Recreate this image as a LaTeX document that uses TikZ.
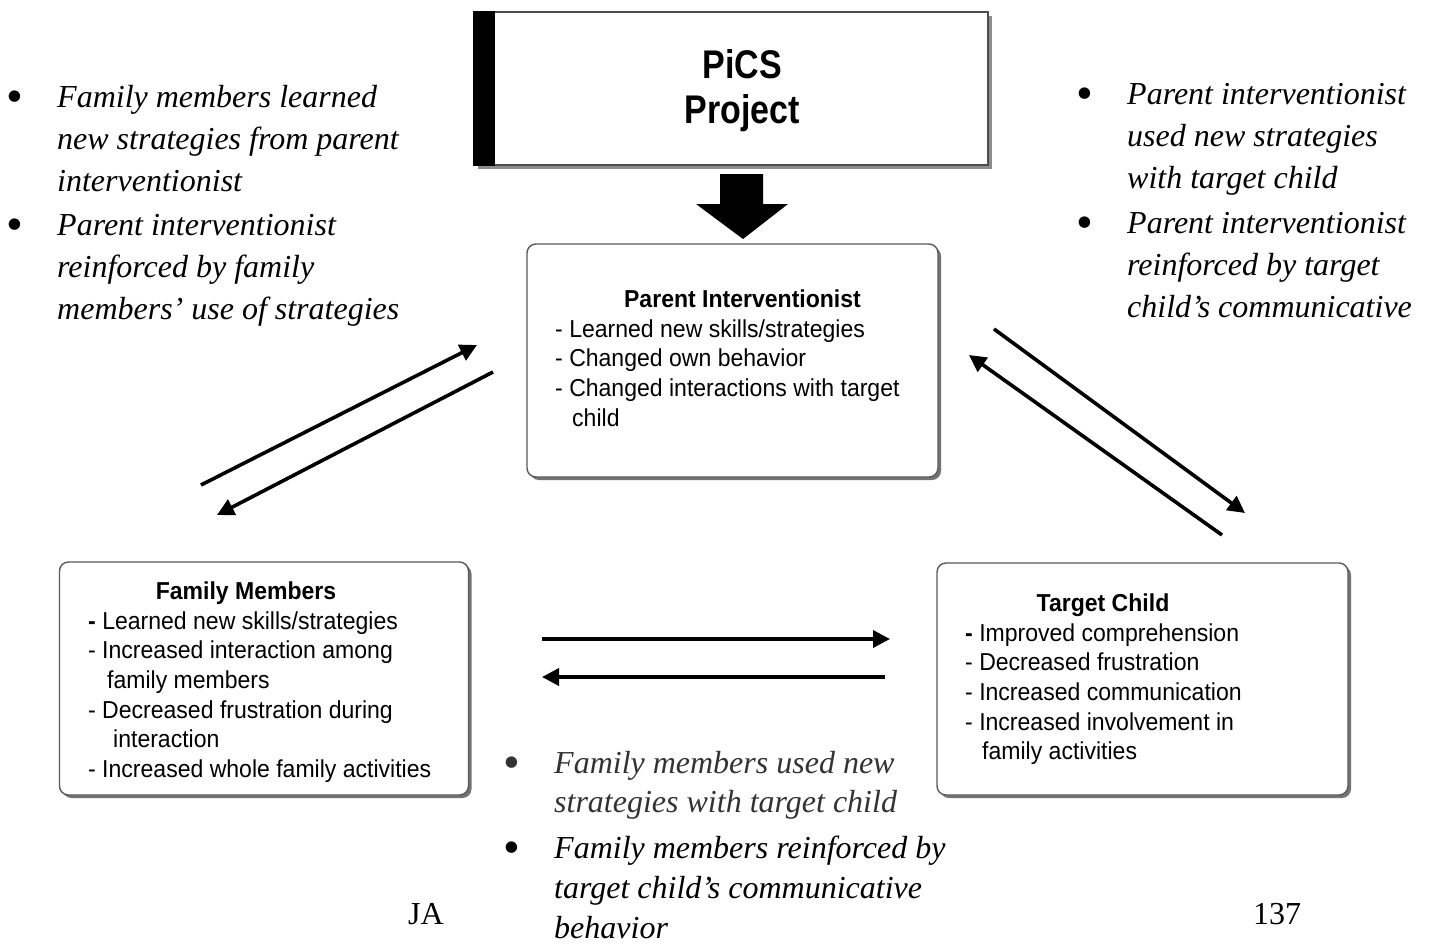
\documentclass[tikz,border=0pt]{standalone}
\usepackage{fontspec}
\setmainfont{Liberation Serif}
\newfontfamily\boxsans[FakeStretch=0.94]{Liberation Sans}
\newfontfamily\picsfont[FakeStretch=0.85]{Liberation Sans}
\usetikzlibrary{arrows.meta,shadows}
\newcommand{\bigbul}{\makebox[50.4pt][l]{\raisebox{-5pt}{\fontsize{48}{42}\selectfont\upshape\textbullet}}}
\begin{document}
\begin{tikzpicture}[x=1pt,y=-1pt,
  rbox/.style={draw=black!65, line width=1.4pt, rounded corners=9pt, fill=white, inner sep=0pt,
    drop shadow={shadow xshift=3pt, shadow yshift=-3pt, fill=black!55, opacity=1}},
  conn/.style={line width=3.6pt, -{Triangle[length=17pt,width=17pt]}},
  bul/.style={anchor=base west, inner sep=0pt, font=\fontsize{32}{42}\selectfont\itshape},
  boxtxt/.style={anchor=base west, inner sep=0pt, font=\fontsize{24.5}{29.7}\selectfont\boxsans},
  boxtitle/.style={anchor=base, inner sep=0pt, font=\fontsize{24.5}{29.7}\selectfont\boxsans\bfseries},
  pagetxt/.style={anchor=base west, inner sep=0pt, font=\fontsize{32}{42}\selectfont},
]
\useasboundingbox (0,0) rectangle (1432,945);

% PiCS Project box
\node[draw=black!70, line width=1.5pt, fill=white, minimum width=514pt, minimum height=153pt, inner sep=0pt,
  drop shadow={shadow xshift=4pt, shadow yshift=-4pt, fill=black!45, opacity=1}] (pics) at (731,88.5) {};
\fill[black] (pics.north west) rectangle ([xshift=22pt]pics.south west);
\node[anchor=base, inner sep=0pt, font=\fontsize{40}{45}\selectfont\picsfont\bfseries] (picstxt) at (742,78)
  {\begin{tabular}[t]{@{}c@{}}PiCS\\Project\end{tabular}};

% big down arrow
\fill[black] (720,174) -- (763,174) -- (763,204) -- (788,204) -- (743,239) -- (696,204) -- (720,204) -- cycle;

% boxes
\node[rbox, minimum width=411pt, minimum height=233pt] (pi) at (732.5,360.5) {};
\node[rbox, minimum width=409pt, minimum height=233pt] (fm) at (264,678.5) {};
\node[rbox, minimum width=411pt, minimum height=232pt] (tc) at (1142.5,679) {};

% box texts
\node[boxtitle] (pititle) at (742.5,307) {Parent Interventionist};
\node[boxtxt] (pitxt) at (555,337) {\begin{tabular}[t]{@{}l@{}}
- Learned new skills/strategies\\
- Changed own behavior\\
- Changed interactions with target\\
\hspace{17pt}child\end{tabular}};

\node[boxtitle] (fmtitle) at (246,599) {Family Members};
\node[boxtxt] (fmtxt) at (88,629) {\begin{tabular}[t]{@{}l@{}}
{\bfseries -} Learned new skills/strategies\\
- Increased interaction among\\
\hspace{19pt}family members\\
- Decreased frustration during\\
\hspace{25pt}interaction\\
- Increased whole family activities\end{tabular}};

\node[boxtitle] (tctitle) at (1103,611) {Target Child};
\node[boxtxt] (tctxt) at (965,641) {\begin{tabular}[t]{@{}l@{}}
{\bfseries -} Improved comprehension\\
- Decreased frustration\\
- Increased communication\\
- Increased involvement in\\
\hspace{17pt}family activities\end{tabular}};

% connectors
\coordinate (a1) at (201,485); \coordinate (a2) at (477,345);
\coordinate (b1) at (493,372); \coordinate (b2) at (217,515);
\coordinate (c1) at (994,329); \coordinate (c2) at (1245,513);
\coordinate (d1) at (1222,535); \coordinate (d2) at (969,355);
\coordinate (e1) at (542,639); \coordinate (e2) at (890,639);
\coordinate (f1) at (885,677); \coordinate (f2) at (542,677);
\draw[conn] (a1) -- (a2);
\draw[conn] (b1) -- (b2);
\draw[conn] (c1) -- (c2);
\draw[conn] (d1) -- (d2);
\draw[conn] (e1) -- (e2);
\draw[conn] (f1) -- (f2);

% bullet texts
\node[bul] (left1) at (6.6,107) {\begin{tabular}[t]{@{}l@{}l@{}}
\bigbul & Family members learned\\
 & new strategies from parent\\
 & interventionist\end{tabular}};
\node[bul] (left2) at (6.6,235) {\begin{tabular}[t]{@{}l@{}l@{}}
\bigbul & Parent interventionist\\
 & reinforced by family\\
 & members’ use of strategies\end{tabular}};

\node[bul] (right1) at (1076.6,104) {\begin{tabular}[t]{@{}l@{}l@{}}
\bigbul & Parent interventionist\\
 & used new strategies\\
 & with target child\end{tabular}};
\node[bul] (right2) at (1076.6,233) {\begin{tabular}[t]{@{}l@{}l@{}}
\bigbul & Parent interventionist\\
 & reinforced by target\\
 & child’s communicative\end{tabular}};

\node[bul, font=\fontsize{32}{39}\selectfont\itshape, text=black!80] (bot1) at (503.6,773) {\begin{tabular}[t]{@{}l@{}l@{}}
\bigbul & Family members used new\\
 & strategies with target child\end{tabular}};
\node[bul, font=\fontsize{32}{40}\selectfont\itshape] (bot2) at (503.6,858) {\begin{tabular}[t]{@{}l@{}l@{}}
\bigbul & Family members reinforced by\\
 & target child’s communicative\\
 & behavior\end{tabular}};

% page marks
\node[pagetxt] (ja) at (408,924) {JA};
\node[pagetxt] (pg) at (1253,924) {137};
\end{tikzpicture}
\end{document}
